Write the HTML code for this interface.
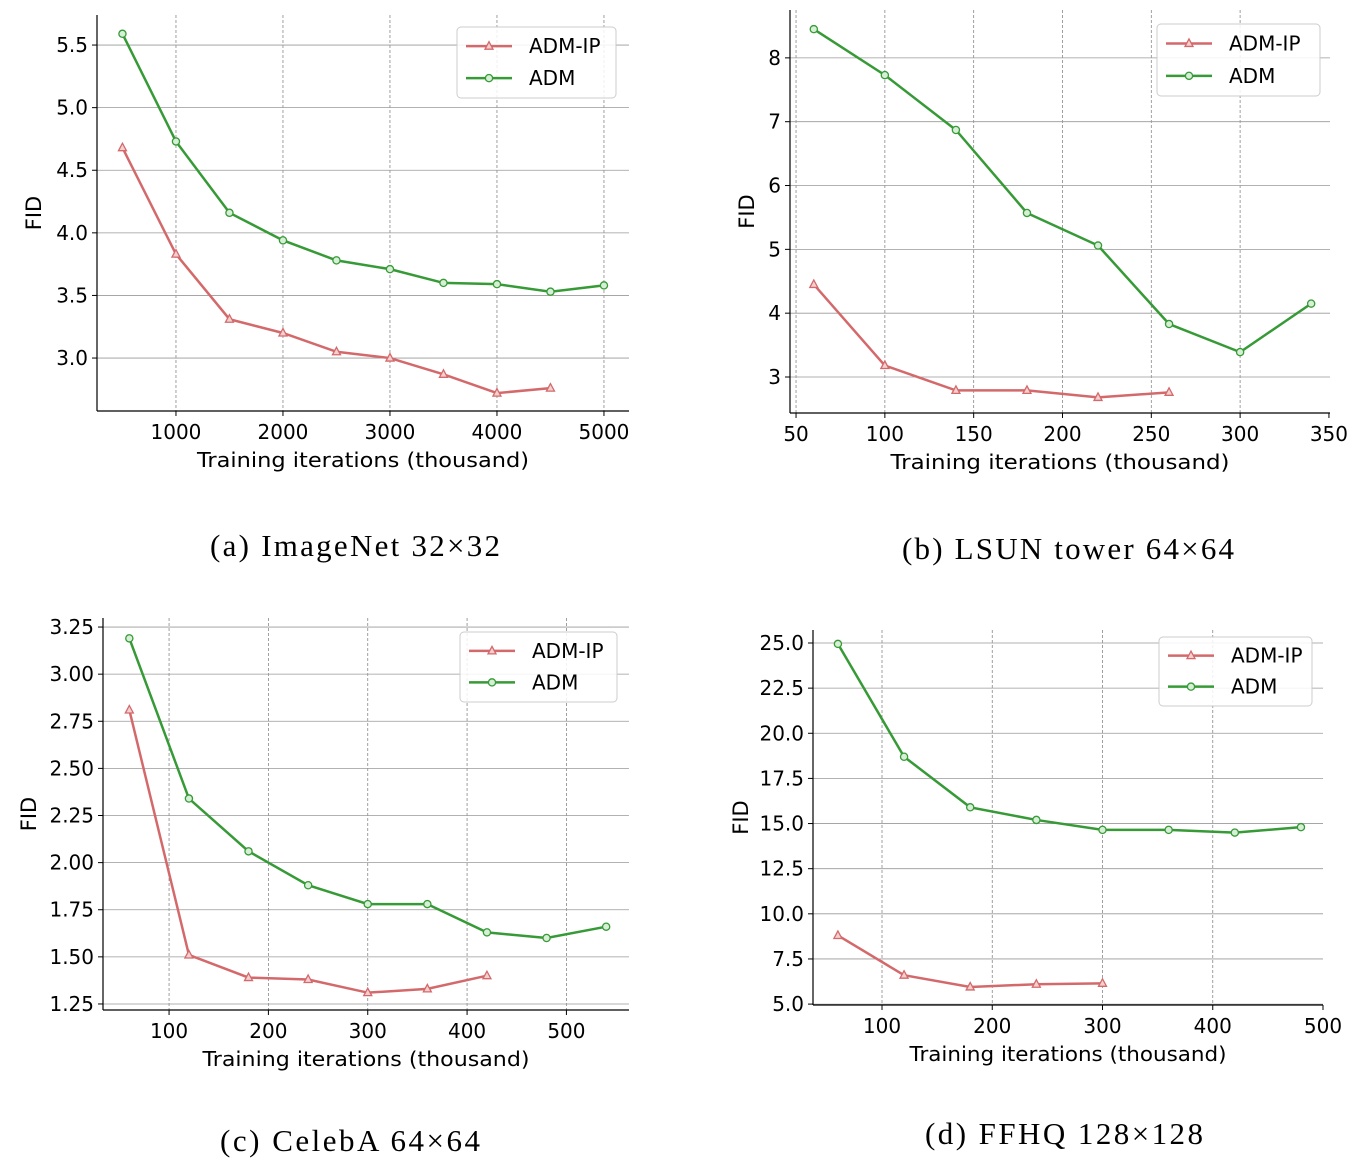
<!DOCTYPE html>
<html><head><meta charset="utf-8">
<style>
body{margin:0;background:#fff;}
svg{display:block;font-family:"DejaVu Sans","Liberation Sans",sans-serif;}
.cap{font-family:"Liberation Serif",serif;font-size:31px;fill:#000;}
</style></head>
<body>
<svg id="chart" width="1361" height="1164" viewBox="0 0 1361 1164" xmlns="http://www.w3.org/2000/svg">
<text class="cap" x="210" y="556" textLength="290" lengthAdjust="spacing">(a) ImageNet 32×32</text>
<text class="cap" x="902" y="559" textLength="332" lengthAdjust="spacing">(b) LSUN tower 64×64</text>
<text class="cap" x="220" y="1151" textLength="260" lengthAdjust="spacing">(c) CelebA 64×64</text>
<text class="cap" x="925" y="1144" textLength="278" lengthAdjust="spacing">(d) FFHQ 128×128</text>
</svg>
<script>
const aIpX=[500,1000,1500,2000,2500,3000,3500,4000,4500];
const aIpY=[4.68,3.83,3.31,3.20,3.05,3.00,2.87,2.72,2.76];
const aAdmX=[500,1000,1500,2000,2500,3000,3500,4000,4500,5000];
const aAdmY=[5.59,4.73,4.16,3.94,3.78,3.71,3.60,3.59,3.53,3.58];
const aXTicks=[1000,2000,3000,4000,5000];
const aYTicks=[3.0,3.5,4.0,4.5,5.0,5.5];

const bIpX=[60,100,140,180,220,260];
const bIpY=[4.45,3.18,2.79,2.79,2.68,2.76];
const bAdmX=[60,100,140,180,220,260,300,340];
const bAdmY=[8.45,7.73,6.87,5.57,5.06,3.83,3.39,4.15];
const bXTicks=[50,100,150,200,250,300,350];
const bYTicks=[3,4,5,6,7,8];

const cIpX=[60,120,180,240,300,360,420];
const cIpY=[2.81,1.51,1.39,1.38,1.31,1.33,1.40];
const cAdmX=[60,120,180,240,300,360,420,480,540];
const cAdmY=[3.19,2.34,2.06,1.88,1.78,1.78,1.63,1.60,1.66];
const cXTicks=[100,200,300,400,500];
const cYTicks=[1.25,1.50,1.75,2.00,2.25,2.50,2.75,3.00,3.25];

const dIpX=[60,120,180,240,300];
const dIpY=[8.8,6.6,5.95,6.1,6.15];
const dAdmX=[60,120,180,240,300,360,420,480];
const dAdmY=[24.95,18.7,15.9,15.2,14.65,14.65,14.5,14.8];
const dXTicks=[100,200,300,400,500];
const dYTicks=[5.0,7.5,10.0,12.5,15.0,17.5,20.0,22.5,25.0];

const NS="http://www.w3.org/2000/svg";
const svg=document.getElementById('chart');
const RED="#d4696b", GREEN="#369a36";
function mk(tag,attrs,parent){const e=document.createElementNS(NS,tag);for(const k in attrs)e.setAttribute(k,attrs[k]);(parent||svg).appendChild(e);return e;}

function panel(id,box,xd,yd,xt,yt,ydec,ipX,ipY,admX,admY,leg,xlw,ylx){
  const g=mk('g',{});
  
  
  const sx=v=>box.l+(v-xd[0])/(xd[1]-xd[0])*(box.r-box.l);
  const sy=v=>box.b-(v-yd[0])/(yd[1]-yd[0])*(box.b-box.t);
  xt.forEach(t=>{
    const x=sx(t);
    if(x<box.r-2){const l=mk('line',{x1:x,x2:x,y1:box.t,y2:box.b,stroke:'#888','stroke-width':0.8,'stroke-dasharray':'3,2'},g);
    
    }
    mk('line',{x1:x,x2:x,y1:box.b,y2:box.b+5,stroke:'#000','stroke-width':1},g);
    const tx=mk('text',{x:x,y:box.b+28,'text-anchor':'middle','font-size':20,fill:'#000'},g);
    tx.textContent=t;
    
    
  });
  yt.forEach(t=>{
    const y=sy(t);
    const l=mk('line',{x1:box.l,x2:box.r,y1:y,y2:y,stroke:'#999','stroke-width':0.8},g);
    
    
    mk('line',{x1:box.l-5,x2:box.l,y1:y,y2:y,stroke:'#000','stroke-width':1},g);
    const tx=mk('text',{x:box.l-9,y:y+7,'text-anchor':'end','font-size':20,fill:'#000'},g);
    tx.textContent=t.toFixed(ydec);
    
    
  });
  mk('line',{x1:box.l,x2:box.l,y1:box.t,y2:box.b,stroke:'#000','stroke-width':1.2},g);
  mk('line',{x1:box.l,x2:box.r,y1:box.b,y2:box.b,stroke:'#000','stroke-width':1.2},g);
  const xc=(box.l+box.r)/2;
  const xl=mk('text',{x:xc-xlw/2,y:box.b+56,'font-size':20,fill:'#000',textLength:xlw,lengthAdjust:'spacingAndGlyphs'},g);
  xl.textContent='Training iterations (thousand)';
  
  
  const yx=ylx, ym=(box.t+box.b)/2;
  const yl=mk('text',{x:yx,y:ym,'text-anchor':'middle','font-size':21,fill:'#000',transform:`rotate(-90 ${yx} ${ym})`},g);
  yl.textContent='FID';
  
  
  function tri(x,y,p){return mk('polygon',{points:`${x},${y-4.5} ${x-4},${y+3} ${x+4},${y+3}`,fill:'#f3d0d0',stroke:RED,'stroke-width':1.3},p);}
  function circ(x,y,p){return mk('circle',{cx:x,cy:y,r:3.6,fill:'#d6efd6',stroke:GREEN,'stroke-width':1.3},p);}
  const pa=mk('polyline',{points:admX.map((v,i)=>sx(v)+','+sy(admY[i])).join(' '),fill:'none',stroke:GREEN,'stroke-width':2.5},g);
  
  
  admX.forEach((v,i)=>{const c=circ(sx(v),sy(admY[i]),g);
    
    });
  const pi=mk('polyline',{points:ipX.map((v,i)=>sx(v)+','+sy(ipY[i])).join(' '),fill:'none',stroke:RED,'stroke-width':2.5},g);
  
  
  ipX.forEach((v,i)=>{const c=tri(sx(v),sy(ipY[i]),g);
    
    });
  const lg=mk('g',{},g);
  
  
  mk('rect',{x:leg.x,y:leg.y,width:leg.w,height:leg.h,rx:4,fill:'#fff','fill-opacity':0.85,stroke:'#ccc','stroke-width':1},lg);
  const r1=leg.y+leg.h*0.27, r2=leg.y+leg.h*0.72;
  mk('line',{x1:leg.x+9,x2:leg.x+55,y1:r1,y2:r1,stroke:RED,'stroke-width':2.5},lg);
  tri(leg.x+32,r1,lg);
  mk('line',{x1:leg.x+9,x2:leg.x+55,y1:r2,y2:r2,stroke:GREEN,'stroke-width':2.5},lg);
  circ(leg.x+32,r2,lg);
  const t1=mk('text',{x:leg.x+72,y:r1+7,'font-size':20,fill:'#000'},lg);t1.textContent='ADM-IP';
  
  
  const t2=mk('text',{x:leg.x+72,y:r2+7,'font-size':20,fill:'#000'},lg);t2.textContent='ADM';
  
  
}
panel('a',{l:97,r:629,t:15,b:411},[262,5234],[2.577,5.74],aXTicks,aYTicks,1,aIpX,aIpY,aAdmX,aAdmY,{x:457,y:27,w:159,h:71},332,41);
panel('b',{l:790,r:1330,t:10,b:413},[46.6,350.6],[2.436,8.75],bXTicks,bYTicks,0,bIpX,bIpY,bAdmX,bAdmY,{x:1157,y:24,w:163,h:72},339,754);
panel('c',{l:103,r:629,t:618,b:1010},[33.5,563],[1.218,3.298],cXTicks,cYTicks,2,cIpX,cIpY,cAdmX,cAdmY,{x:460,y:632,w:157,h:70},327,36);
panel('d',{l:813,r:1323,t:630,b:1005},[37.4,500],[4.95,25.72],dXTicks,dYTicks,1,dIpX,dIpY,dAdmX,dAdmY,{x:1159,y:637,w:153,h:69},317,748);
</script>
</body></html>
